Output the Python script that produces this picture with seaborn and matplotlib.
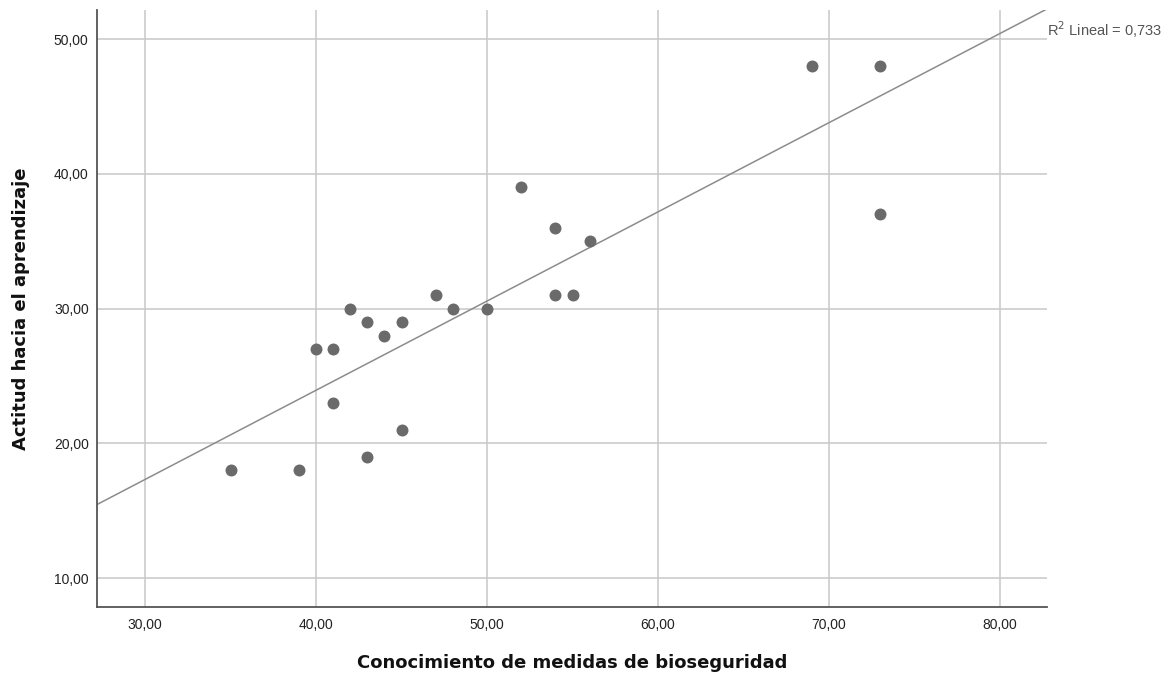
import numpy as np
import pandas as pd
import matplotlib
matplotlib.use('Agg')
import matplotlib.pyplot as plt
import seaborn as sns

# values
conocimiento = [35, 39, 40, 41, 41, 42, 43, 43, 44, 45, 45, 47, 48, 50,
                52, 54, 54, 55, 56, 69, 73, 73]
actitud = [18, 18, 27, 27, 23, 30, 29, 19, 28, 29, 21, 31, 30, 30,
           39, 36, 31, 31, 35, 48, 48, 37]
xticks = [30, 40, 50, 60, 70, 80]
yticks = [10, 20, 30, 40, 50]
r2_label = '0,733'

df = pd.DataFrame({'conocimiento': conocimiento, 'actitud': actitud})

sns.set_style('white')
plt.rcParams['font.family'] = ['Liberation Sans', 'DejaVu Sans']

fig = plt.figure(figsize=(11.76, 6.8), dpi=100)
ax = fig.add_axes([0.0825, 0.1074, 0.8078, 0.8776])
ax.set_xlim(27.19, 82.75)
ax.set_ylim(7.85, 52.15)

# grid first so it sits under the points
for t in xticks:
    ax.axvline(t, color='#c8c8c8', lw=1.1, zorder=0)
for t in yticks:
    ax.axhline(t, color='#c8c8c8', lw=1.1, zorder=0)

sns.regplot(data=df, x='conocimiento', y='actitud', ax=ax, ci=None,
            truncate=False,
            scatter_kws={'s': 74, 'color': '#6a6a6a', 'alpha': 1,
                         'linewidths': 0, 'zorder': 3},
            line_kws={'color': '#8c8c8c', 'lw': 1.1, 'zorder': 2})
ax.set_xlim(27.19, 82.75)
ax.set_ylim(7.85, 52.15)

ax.set_xticks(xticks)
ax.set_yticks(yticks)
ax.set_xticklabels(['{:.2f}'.format(t).replace('.', ',') for t in xticks])
ax.set_yticklabels(['{:.2f}'.format(t).replace('.', ',') for t in yticks])
ax.tick_params(axis='both', labelsize=10, colors='#222222', length=0)
ax.tick_params(axis='x', pad=8)
ax.tick_params(axis='y', pad=6)

for s in ['top', 'right']:
    ax.spines[s].set_visible(False)
for s in ['left', 'bottom']:
    ax.spines[s].set_color('#555555')
    ax.spines[s].set_linewidth(1.3)

lab_font = {'family': 'DejaVu Sans', 'size': 13, 'weight': 'bold',
            'color': '#111111'}
ax.set_xlabel('Conocimiento de medidas de bioseguridad', fontdict=lab_font,
              labelpad=16)
ax.set_ylabel('Actitud hacia el aprendizaje', fontdict=lab_font,
              labelpad=17)

r = np.corrcoef(conocimiento, actitud)[0, 1]
print('R2 =', r ** 2)

ax.text(1.0, 0.968, 'R$^2$ Lineal = ' + r2_label, transform=ax.transAxes,
        fontsize=10.5, color='#555555', ha='left', va='center', clip_on=False)

fig.savefig('out.png', dpi=100)
